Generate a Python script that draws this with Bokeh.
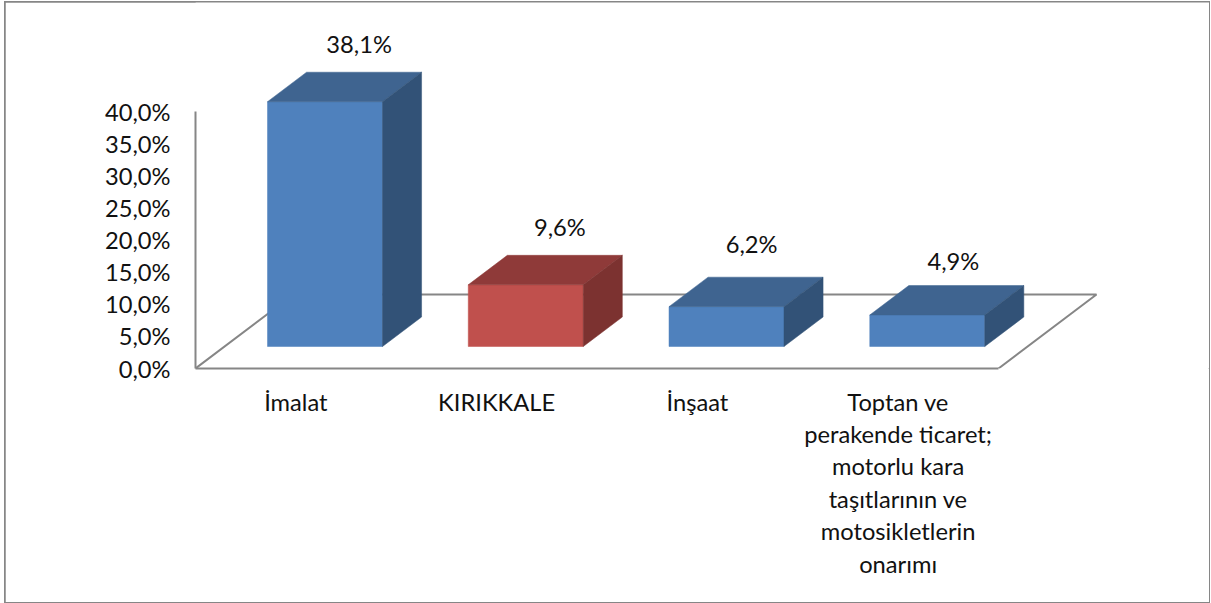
from bokeh.plotting import figure
from bokeh.models import Range1d, FixedTicker, ColumnDataSource
from bokeh.core.properties import value
from bokeh.embed import file_html
from bokeh.resources import INLINE

categories = ["İmalat", "KIRIKKALE", "İnşaat",
              "Toptan ve\nperakende ticaret;\nmotorlu kara\ntaşıtlarının ve\nmotosikletlerin\nonarımı"]
values = [38.1, 9.6, 6.2, 4.9]
value_labels = ["38,1%", "9,6%", "6,2%", "4,9%"]
y_ticks = [0, 5, 10, 15, 20, 25, 30, 35, 40]
y_tick_labels = ["0,0%", "5,0%", "10,0%", "15,0%", "20,0%", "25,0%", "30,0%", "35,0%", "40,0%"]

FONT = "Lato"
FS = "23.7px"
OX, OY = 5, 2              # page offset of the chart area
W, H = 1204, 600
X0, Y0 = 195 - OX, 368 - OY  # pixel of the axes origin inside the chart area
PX_X = 200.75              # pixels per category
PX_Y = 6.425               # pixels per percent
GRID = "#868686"

p = figure(width=W, height=H, output_backend="svg", toolbar_location=None,
           x_range=Range1d(0, (W - X0) / PX_X), y_range=Range1d(0, Y0 / PX_Y),
           min_border_left=X0, min_border_right=0, min_border_top=0, min_border_bottom=H - Y0,
           background_fill_color="white", border_fill_color="white", outline_line_color=None)
p.styles = {"position": "absolute", "left": f"{OX}px", "top": f"{OY}px",
            "outline": f"2px solid {GRID}", "outline-offset": "-1px"}
p.grid.visible = False

# Axes
ya = p.yaxis[0]
ya.ticker = FixedTicker(ticks=y_ticks)
ya.major_label_overrides = dict(zip(y_ticks, y_tick_labels))
ya.bounds = (0, 40)
ya.axis_line_color = GRID
ya.axis_line_width = 2
ya.major_tick_line_color = None
ya.minor_tick_line_color = None
ya.major_label_standoff = 19
ya.major_label_text_font = FONT
ya.major_label_text_font_size = FS
ya.major_label_text_color = "#111111"

xa = p.xaxis[0]
xt = [i + 0.5 for i in range(len(categories))]
xa.ticker = FixedTicker(ticks=xt)
xa.major_label_overrides = dict(zip(xt, categories))
xa.bounds = (0, 4)
xa.axis_line_color = GRID
xa.axis_line_width = 2
xa.major_tick_line_color = None
xa.minor_tick_line_color = None
xa.major_label_standoff = 13
xa.major_label_orientation = "horizontal"
xa.major_label_text_font = FONT
xa.major_label_text_font_size = FS
xa.major_label_text_color = "#111111"
xa.major_label_text_line_height = 1.16

# Oblique projection: depth d in 0..1 shifts a point up and right
DX = 98 / PX_X
DY = 74 / PX_Y
def pt(x, y, d):
    return x + DX * d, y + DY * d

# Floor outline
fx, fy = zip(pt(0, 0, 0), pt(0, 0, 1), pt(4, 0, 1), pt(4, 0, 0))
p.line(list(fx), list(fy), line_color=GRID, line_width=2)

# Bars
BW = 115 / PX_X
D_FRONT, D_BACK = 22 / 74, 51.5 / 74
BLUE = ("#4F81BD", "#3F6490", "#325277")
RED = ("#C0504D", "#8F3A39", "#7C3230")
for i, v in enumerate(values):
    front_c, top_c, side_c = RED if categories[i] == "KIRIKKALE" else BLUE
    l = i + 0.5 - BW / 2
    r = i + 0.5 + BW / 2
    faces = [
        ([pt(l, 0, D_FRONT), pt(r, 0, D_FRONT), pt(r, v, D_FRONT), pt(l, v, D_FRONT)], front_c),
        ([pt(l, v, D_FRONT), pt(r, v, D_FRONT), pt(r, v, D_BACK), pt(l, v, D_BACK)], top_c),
        ([pt(r, 0, D_FRONT), pt(r, 0, D_BACK), pt(r, v, D_BACK), pt(r, v, D_FRONT)], side_c),
    ]
    for poly, c in faces:
        xs, ys = zip(*poly)
        p.patch(list(xs), list(ys), fill_color=c, line_color=c, line_width=0.5)

# Value labels above each bar
label_x = [pt(i + 0.5, v, D_BACK)[0] for i, v in enumerate(values)]
label_y = [pt(0, v, D_BACK)[1] for v in values]
src = ColumnDataSource(dict(x=label_x, y=label_y, t=value_labels,
                            dx=[-5, -5, -14, -13], dy=[-28, -28, -33, -25]))
p.text("x", "y", text="t", source=src, x_offset="dx", y_offset="dy",
       text_font=value(FONT), text_font_size=value(FS), text_color="#111111",
       text_align="center", text_baseline="middle")

open("out.html", "w").write(file_html(p, INLINE))
